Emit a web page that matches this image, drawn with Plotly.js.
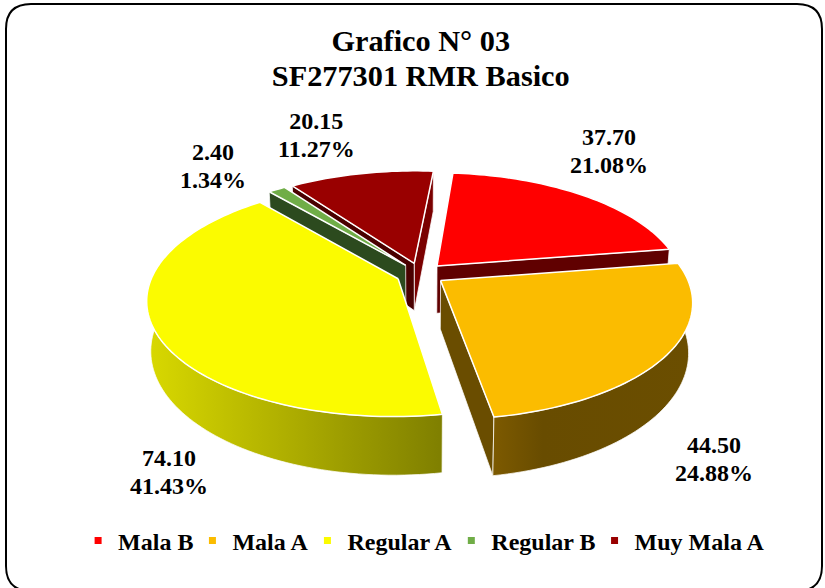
<!DOCTYPE html>
<html>
<head>
<meta charset="utf-8">
<script src="https://cdn.plot.ly/plotly-3.0.1.min.js"></script>
<style>html,body{margin:0;padding:0;background:#fff;overflow:hidden}#chart{width:825px;height:588px}</style>
</head>
<body>
<div id="chart"></div>
<script>
const titleLines = ["Grafico N° 03", "SF277301 RMR Basico"];
const categories = ["Mala B", "Mala A", "Regular A", "Regular B", "Muy Mala A"];
const values = [37.70, 44.50, 74.10, 2.40, 20.15];
const topColors = ["#FF0000", "#FBBC00", "#FBFB00", "#70AD47", "#990000"];
const cutColors = ["#600000", "#6A4D00", "#808000", "#2C4A1E", "#4A0000"];
const labelX = [609, 714, 168.5, 213, 316];
const labelY = [151, 459, 472, 165.5, 135];

// Pie geometry: projection of a tilted, exploded disc
const cx = 420.5, cy = 274, rx = 245, ry = 112, persp = 0.174, depth = 48, shrink = 0.015, explode = 0.1, startDeg = 5.1;
const rad = d => d * Math.PI / 180;
const total = values.reduce((a, b) => a + b, 0);
function project(u, v, h) {
  const s = 1 / (1 - persp * v);
  return [cx + rx * u * s * (1 - shrink * h / depth), cy + ry * v * s + h * s];
}
let acc = startDeg;
const slices = values.map(val => {
  const a0 = acc, a1 = acc + val / total * 360; acc = a1;
  const m = rad((a0 + a1) / 2);
  return {a0, a1, ou: explode * Math.sin(m), ov: -explode * Math.cos(m)};
});
const rim = (sl, deg, h) => project(sl.ou + Math.sin(rad(deg)), sl.ov - Math.cos(rad(deg)), h);
const apex = (sl, h) => project(sl.ou, sl.ov, h);
function arc(sl, h, from, to) {
  const pts = [], n = Math.max(2, Math.ceil(Math.abs(to - from) / 1.5));
  for (let i = 0; i <= n; i++) pts.push(rim(sl, from + (to - from) * i / n, h));
  return pts;
}
const traces = [];
function poly(pts, color, lineColor, lineWidth, gradient) {
  const closed = pts.concat([pts[0]]);
  const t = {type: "scatter", mode: "lines", x: closed.map(p => p[0]), y: closed.map(p => p[1]),
    fill: "toself", fillcolor: color, line: {color: lineColor, width: lineWidth, simplify: false},
    hoverinfo: "skip", showlegend: false};
  if (gradient) t.fillgradient = {type: "horizontal", colorscale: gradient};
  traces.push(t);
}
const WHITE = "#FFFFFF", SOFT = "rgba(255,255,255,0.75)";
const topFace = i => poly([apex(slices[i], 0)].concat(arc(slices[i], 0, slices[i].a0, slices[i].a1)), topColors[i], WHITE, 1.5);
const cutFace = (i, deg, color) => poly([apex(slices[i], 0), rim(slices[i], deg, 0), rim(slices[i], deg, depth), apex(slices[i], depth)], color, SOFT, 1);
const wall = (i, from, to, grad) => poly(arc(slices[i], 0, from, to).concat(arc(slices[i], depth, to, from)), topColors[i], SOFT, 1, grad);

// Painter's order, back to front
cutFace(4, slices[4].a1, "#7A0000");
cutFace(4, slices[4].a0, cutColors[4]);
topFace(4);
cutFace(0, slices[0].a1, cutColors[0]);
topFace(0);
cutFace(3, slices[3].a0, cutColors[3]);
topFace(3);
wall(2, slices[2].a0, 282, [[0, "#D9D900"], [0.5, "#ACAC00"], [1, "#7F7F00"]]);
topFace(2);
cutFace(1, slices[1].a1, cutColors[1]);
wall(1, 92, slices[1].a1, [[0, "#7D5A00"], [0.25, "#684C00"], [1, "#6B4E00"]]);
topFace(1);

// Legend entries
categories.forEach((name, i) => traces.push({type: "scatter", mode: "markers", x: [null], y: [null], name,
  marker: {symbol: "square", size: 7, color: topColors[i]}, hoverinfo: "skip"}));

const serif = "'Liberation Serif','Times New Roman',serif";
const big = (s, px) => '<b><span style="font-size:' + px + 'px">' + s + "</span></b>";
const annotations = values.map((v, i) => ({
  xref: "x", yref: "y", x: labelX[i], y: labelY[i], xanchor: "center", yanchor: "middle", showarrow: false,
  align: "center", text: big(v.toFixed(2), 24) + "<br>" + big((v / total * 100).toFixed(2) + "%", 24),
  font: {family: serif, size: 21.5, color: "#000"}
}));
const layout = {
  width: 825, height: 588, margin: {l: 0, r: 0, t: 0, b: 0},
  paper_bgcolor: "#fff", plot_bgcolor: "#fff",
  title: {text: titleLines.map(s => big(s, 30.3)).join("<br>"), x: 0.51, xanchor: "center", y: 0.913, yanchor: "middle", font: {family: serif, size: 27, color: "#000"}},
  xaxis: {range: [0, 825], visible: false, fixedrange: true},
  yaxis: {range: [588, 0], visible: false, fixedrange: true},
  legend: {orientation: "h", x: 0.5177, xanchor: "center", y: 0.08, yanchor: "middle", indentation: -6,
    font: {family: serif, size: 24, color: "#000", weight: 700}, bgcolor: "rgba(0,0,0,0)", itemclick: false, itemdoubleclick: false},
  annotations,
  shapes: [{type: "path", xref: "x", yref: "y", layer: "below",
    path: "M 31 4 H 797 Q 822 4 822 29 V 566 Q 822 591 797 591 H 31 Q 6 591 6 566 V 29 Q 6 4 31 4 Z",
    line: {color: "#000", width: 2}, fillcolor: "rgba(0,0,0,0)"}]
};
Plotly.newPlot("chart", traces, layout, {displayModeBar: false});
</script>
</body>
</html>
